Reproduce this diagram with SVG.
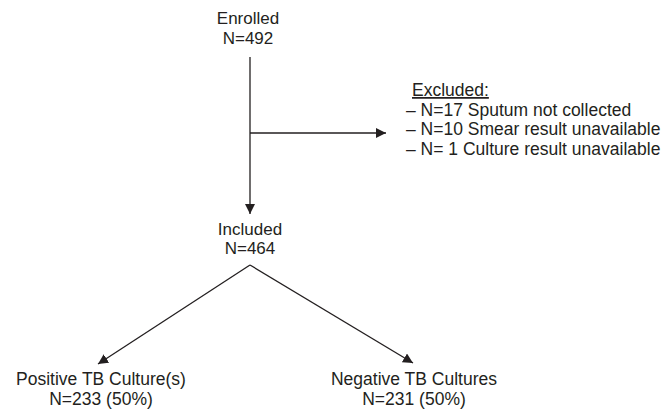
<svg xmlns="http://www.w3.org/2000/svg" width="669" height="410" viewBox="0 0 669 410">
<style>
text{font-family:"Liberation Sans",Arial,sans-serif;font-size:17px;fill:#231f20}
.c{text-anchor:middle}
.b{font-size:17.5px}
.ln{stroke:#231f20;stroke-width:1.3;fill:none}
</style>
<defs>
<marker id="ah" viewBox="0 0 10 10" refX="10" refY="5" markerWidth="10" markerHeight="10" markerUnits="userSpaceOnUse" orient="auto">
<path d="M0,0 L10,5 L0,10 z" fill="#231f20"/>
</marker>
</defs>
<rect width="669" height="410" fill="#fff"/>
<g id="connectors">
<line class="ln" x1="250" y1="57" x2="250" y2="214" marker-end="url(#ah)"/>
<line class="ln" x1="250" y1="133" x2="386" y2="133" marker-end="url(#ah)"/>
<line class="ln" x1="250" y1="265" x2="98" y2="364" marker-end="url(#ah)"/>
<line class="ln" x1="250" y1="265" x2="413" y2="363" marker-end="url(#ah)"/>
</g>
<g id="enrolled">
<text class="c" x="248" y="24">Enrolled</text>
<text class="c" x="248" y="44">N=492</text>
</g>
<g id="excluded">
<text class="b" x="412" y="96" text-decoration="underline">Excluded:</text>
<text class="b" x="406" y="115.5">– N=17 Sputum not collected</text>
<text class="b" x="406" y="135">– N=10 Smear result unavailable</text>
<text class="b" x="406" y="154.5">– N= 1 Culture result unavailable</text>
</g>
<g id="included">
<text class="c" x="250" y="235">Included</text>
<text class="c" x="250" y="254">N=464</text>
</g>
<g id="positive">
<text class="c b" x="101" y="385">Positive TB Culture(s)</text>
<text class="c b" x="101" y="404.5">N=233 (50%)</text>
</g>
<g id="negative">
<text class="c b" x="414" y="385">Negative TB Cultures</text>
<text class="c b" x="414" y="404.5">N=231 (50%)</text>
</g>
</svg>
